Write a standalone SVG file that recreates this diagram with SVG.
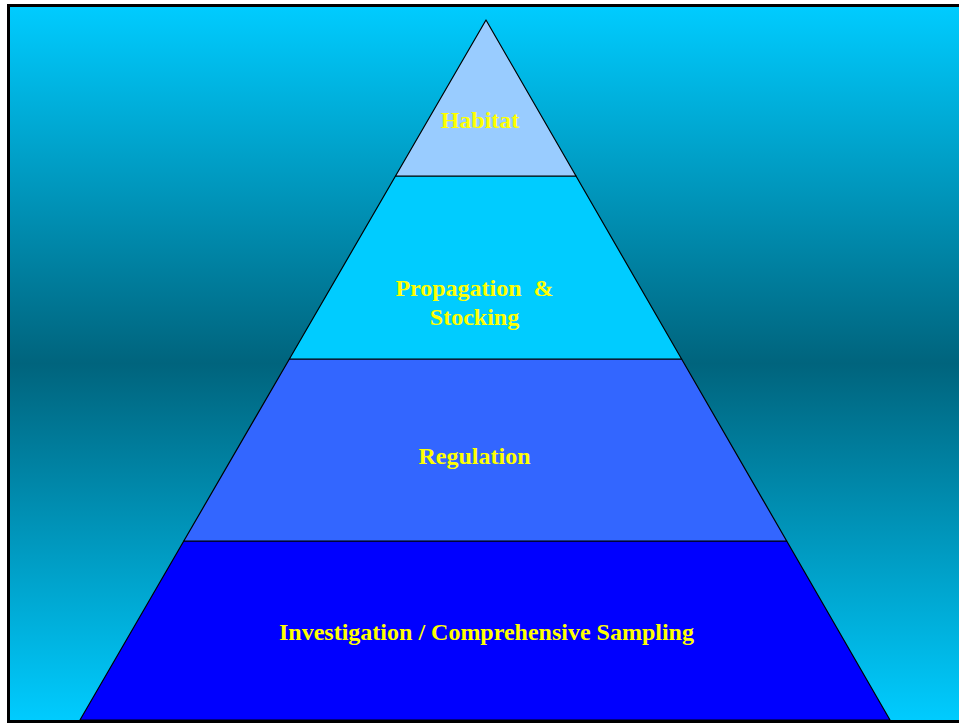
<svg xmlns="http://www.w3.org/2000/svg" width="959" height="723" viewBox="0 0 959 723">
<defs>
<linearGradient id="bg" x1="0" y1="0" x2="0" y2="1">
<stop offset="0" stop-color="#00CCFF"/>
<stop offset="0.5" stop-color="#00647D"/>
<stop offset="1" stop-color="#00CCFF"/>
</linearGradient>
<style>
.tier{stroke:#000;stroke-width:1.2;stroke-linejoin:round}
.lbl{font-family:"Liberation Serif","Times New Roman",serif;font-weight:bold;font-size:24px;fill:#FFFF00;text-anchor:middle}
</style>
</defs>
<rect width="959" height="723" fill="#FFFFFF"/>
<rect x="8.5" y="5.5" width="955" height="716" fill="url(#bg)" stroke="#000" stroke-width="3"/>
<g id="tier-investigation">
<polygon class="tier" points="183.8,541 786.7,541 890,720 80,720" fill="#0000FF"/>
<text class="lbl" x="486.5" y="640">Investigation / Comprehensive Sampling</text>
</g>
<g id="tier-regulation">
<polygon class="tier" points="289.4,359 681.6,359 786.7,541 183.8,541" fill="#3366FF"/>
<text class="lbl" x="474.5" y="464">Regulation</text>
</g>
<g id="tier-propagation">
<polygon class="tier" points="395.5,176 576,176 681.6,359 289.4,359" fill="#00CCFF"/>
<text class="lbl" x="474.5" y="296" xml:space="preserve">Propagation  &amp;</text>
<text class="lbl" x="474.5" y="325">Stocking</text>
</g>
<g id="tier-habitat">
<polygon class="tier" points="486,20 576,176 395.5,176" fill="#99CCFF"/>
<text class="lbl" x="480" y="128">Habitat</text>
</g>
<g id="connectors"/>
</svg>
